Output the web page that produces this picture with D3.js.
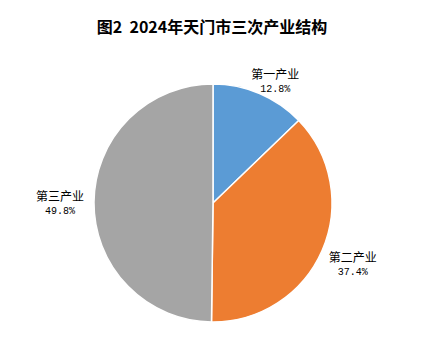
<!DOCTYPE html>
<html><head><meta charset="utf-8">
<script src="https://cdn.jsdelivr.net/npm/d3@7"></script>
<style>body{margin:0;background:#fff}</style>
</head><body>
<svg id="c" width="422" height="356"></svg>
<script>
const categories = ["第一产业", "第二产业", "第三产业"];
const values = [12.8, 37.4, 49.8];
const colors = ["#5B9BD5", "#ED7D31", "#A5A5A5"];
const title = "图2  2024年天门市三次产业结构";

const svg = d3.select("#c");
const W = 422, H = 356;
svg.append("rect").attr("width", W).attr("height", H).attr("fill", "#fff");

svg.append("text").attr("x", 212).attr("y", 33).attr("text-anchor", "middle")
  .style("white-space", "pre")
  .attr("font-family", "'Noto Sans CJK SC', sans-serif").attr("font-weight", "bold")
  .attr("font-size", 16).attr("fill", "#000").text(title);

const cx = 213, cy = 203, r = 119;
const data = categories.map((c, i) => ({cat: c, v: values[i], col: colors[i]}));
const pie = d3.pie().value(d => d.v).sort(null);
const arc = d3.arc().innerRadius(0).outerRadius(r);
const g = svg.append("g").attr("transform", `translate(${cx},${cy})`);
const arcs = pie(data);
g.selectAll("path").data(arcs).join("path")
  .attr("d", arc).attr("fill", d => d.data.col)
  .attr("stroke", "#fff").attr("stroke-width", 1.5);

// labels placed outside
const labelArc = d3.arc().innerRadius(r + 30).outerRadius(r + 30);
const offsets = [[4, 13], [3, 0], [-4, -1]];
arcs.forEach((a, i) => {
  const [lx, ly] = labelArc.centroid(a);
  const t = g.append("text").attr("text-anchor", "middle")
    .attr("font-family", "'Noto Sans CJK SC', sans-serif").attr("font-size", 12).attr("fill", "#000");
  t.append("tspan").attr("x", lx + offsets[i][0]).attr("y", ly + offsets[i][1]).text(a.data.cat);
  t.append("tspan").attr("x", lx + offsets[i][0]).attr("dy", 13)
    .attr("font-family", "'Liberation Mono', monospace").attr("font-size", 10)
    .text(a.data.v.toFixed(1) + "%");
});
</script>
</body></html>
